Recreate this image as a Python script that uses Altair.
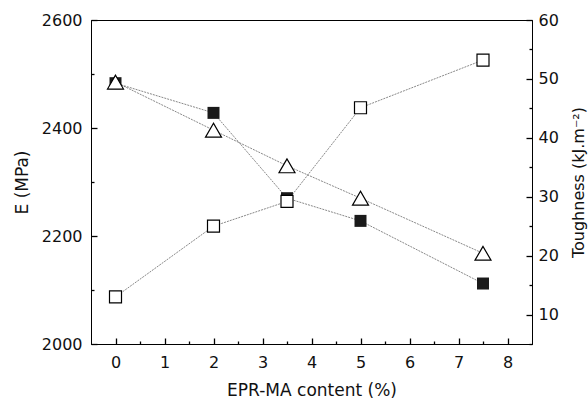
import altair as alt
import pandas as pd

# ---- data ----
content = [0, 2, 3.5, 5, 7.5]                      # EPR-MA content (%)
modulus_filled = [2483, 2428, 2270, 2228, 2112]    # E (MPa), filled squares
modulus_triangle = [2485, 2396, 2330, 2270, 2168]  # E (MPa), open triangles
toughness = [13.0, 25.0, 29.2, 45.1, 53.2]         # Toughness (kJ.m-2), open squares

x_tick_values = [0, 0.5, 1, 1.5, 2, 2.5, 3, 3.5, 4, 4.5, 5, 5.5, 6, 6.5, 7, 7.5, 8]
left_tick_values = [2000, 2100, 2200, 2300, 2400, 2500, 2600]
right_tick_values = [5, 10, 15, 20, 25, 30, 35, 40, 45, 50, 55, 60]

df_filled = pd.DataFrame({"x": content, "y": modulus_filled})
df_tri = pd.DataFrame({"x": content, "y": modulus_triangle})
df_tough = pd.DataFrame({"x": content, "y": toughness})

FONT = "DejaVu Sans"
INWARD = alt.ExprRef(expr="-6")
TICKS = dict(ticks=True, tickSize=INWARD, tickColor="black", tickWidth=1.3, zindex=1)


def minor_dash(test):
    return {"condition": {"test": test, "value": [6, 0]}, "value": [3, 20]}


x_enc = alt.X(
    "x:Q",
    scale=alt.Scale(domain=[-0.5, 8.5], nice=False, zero=False),
    axis=alt.Axis(
        values=x_tick_values,
        labelExpr="datum.value % 1 === 0 ? format(datum.value, 'd') : ''",
        tickDash=minor_dash("datum.value % 1 === 0"),
        title="EPR-MA content (%)",
        grid=False,
        labelPadding=16,
        titlePadding=12,
        **TICKS,
    ),
)

left_scale = alt.Scale(domain=[2000, 2600], nice=False, zero=False)
right_scale = alt.Scale(domain=[5, 60], nice=False, zero=False)

left_axis = alt.Axis(
    values=left_tick_values,
    labelExpr="datum.value % 200 === 0 ? format(datum.value, 'd') : ''",
    tickDash=minor_dash("datum.value % 200 === 0"),
    title="E (MPa)",
    grid=False,
    labelPadding=15,
    titlePadding=10,
    **TICKS,
)
right_axis = alt.Axis(
    orient="right",
    values=right_tick_values,
    labelExpr="datum.value % 10 === 0 ? format(datum.value, 'd') : ''",
    tickDash=minor_dash("datum.value % 10 === 0"),
    title="Toughness (kJ.m⁻²)",
    titleAngle=270,
    titleFontSize=16,
    grid=False,
    labelPadding=12,
    titlePadding=28,
    **TICKS,
)

line_style = dict(color="#555555", strokeWidth=0.7, strokeDash=[2, 1])

line_filled = alt.Chart(df_filled).mark_line(**line_style).encode(
    x=x_enc, y=alt.Y("y:Q", scale=left_scale, axis=left_axis)
)
line_tri = alt.Chart(df_tri).mark_line(**line_style).encode(
    x=x_enc, y=alt.Y("y:Q", scale=left_scale, axis=left_axis)
)
pts_filled = alt.Chart(df_filled).mark_point(
    shape="square", filled=True, color="#1a1a1a", size=144, opacity=1
).encode(x=x_enc, y=alt.Y("y:Q", scale=left_scale, axis=left_axis))
pts_tri = alt.Chart(df_tri).mark_point(
    shape="triangle-up", filled=True, fill="white", stroke="black",
    strokeWidth=1.2, size=256, opacity=1
).encode(x=x_enc, y=alt.Y("y:Q", scale=left_scale, axis=left_axis))

left = alt.layer(line_filled, line_tri, pts_filled, pts_tri)

line_tough = alt.Chart(df_tough).mark_line(**line_style).encode(
    x=x_enc, y=alt.Y("y:Q", scale=right_scale, axis=right_axis)
)
pts_tough = alt.Chart(df_tough).mark_point(
    shape="square", filled=True, fill="white", stroke="black",
    strokeWidth=1.2, size=144, opacity=1
).encode(x=x_enc, y=alt.Y("y:Q", scale=right_scale, axis=right_axis))

right = alt.layer(line_tough, pts_tough)

chart = (
    alt.layer(left, right)
    .resolve_scale(y="independent")
    .properties(
        width=441,
        height=324,
        autosize=alt.AutoSizeParams(type="none"),
        padding={"left": 91, "top": 20, "right": 56, "bottom": 58},
        background="white",
    )
    .configure_view(stroke="black", strokeWidth=1)
    .configure_axis(
        labelFont=FONT,
        titleFont=FONT,
        labelFontSize=16,
        titleFontSize=17,
        titleFontWeight="normal",
        labelColor="#111111",
        titleColor="#111111",
        domainColor="black",
        domainWidth=1,
    )
)

chart.save("out.html", embed_options={"renderer": "svg", "actions": False})
